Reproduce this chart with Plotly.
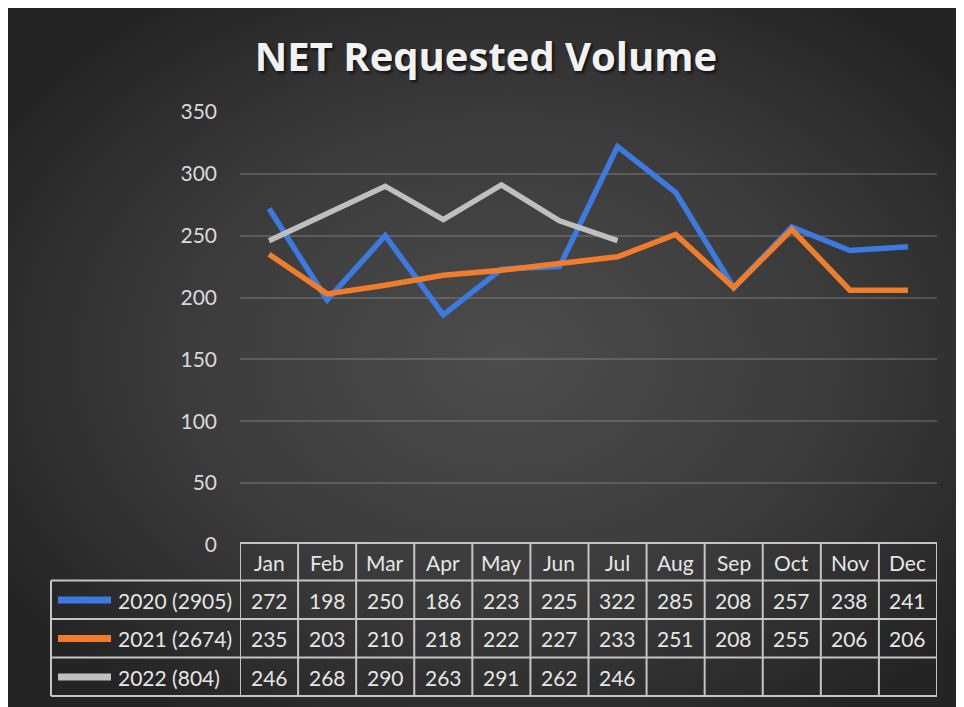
"""
Line chart with an Excel-style data table underneath: NET Requested Volume.
"""

import base64
import plotly.graph_objects as go


MONTHS = ["Jan", "Feb", "Mar", "Apr", "May", "Jun",
          "Jul", "Aug", "Sep", "Oct", "Nov", "Dec"]

VOL_2020 = [272, 198, 250, 186, 223, 225, 322, 285, 208, 257, 238, 241]
VOL_2021 = [235, 203, 210, 218, 222, 227, 233, 251, 208, 255, 206, 206]
VOL_2022 = [246, 268, 290, 263, 291, 262, 246, None, None, None, None, None]

SERIES_NAMES = ["2020 (2905)", "2021 (2674)", "2022 (804)"]
SERIES_VALUES = [VOL_2020, VOL_2021, VOL_2022]

Y_TICKS = [0, 50, 100, 150, 200, 250, 300, 350]

LINE_COLORS = ["#3d7ae0", "#f07d2c", "#bfbfbf"]
TEXT_COLOR = "#e6e6e6"
GRID_COLOR = "#c4c4c4"
FONT = "Lato"

# the page body has an 8px margin, so the figure is a bit smaller than the window
W, H = 956, 699
L, R, T, B = 232, 27, 104, 162
PW, PH = W - L - R, H - T - B
X0, Y0 = 240, 545      # screen px of the plot's left / bottom edge


def py(px):
    """Screen pixel row -> paper y."""
    return (Y0 - px) / PH


def pxx(px):
    """Screen pixel column -> paper x."""
    return (px - X0) / PW


def background_uri():
    svg = (
        "<svg xmlns='http://www.w3.org/2000/svg' width='956' height='699'>"
        "<defs><radialGradient id='g' cx='52%' cy='50%' r='62%'>"
        "<stop offset='0' stop-color='#4c4c4c'/>"
        "<stop offset='0.55' stop-color='#3b3b3b'/>"
        "<stop offset='1' stop-color='#242424'/>"
        "</radialGradient></defs>"
        "<rect width='100%' height='100%' fill='url(#g)'/></svg>"
    )
    return "data:image/svg+xml;base64," + base64.b64encode(svg.encode()).decode()


def cell_text(x, y, text, xref="x", xanchor="center"):
    return dict(x=x, y=y, xref=xref, yref="paper", text=text, showarrow=False,
                xanchor=xanchor, yanchor="middle",
                font=dict(family=FONT, size=21, color=TEXT_COLOR))


fig = go.Figure()

for name, vals, color in zip(SERIES_NAMES, SERIES_VALUES, LINE_COLORS):
    fig.add_trace(go.Scatter(
        x=MONTHS, y=vals, name=name, mode="lines",
        line=dict(color=color, width=5.5), connectgaps=False,
    ))

# --- data table below the plot ---
row_lines = [543, 580.5, 619, 657.5, 696]
row_mid = [562, 600, 638.5, 677]
label_left = 51

shapes = []
annotations = []

# header row top line (only over month columns)
shapes.append(dict(type="line", xref="x", yref="paper",
                   x0=-0.5, x1=len(MONTHS) - 0.5,
                   y0=py(row_lines[0]), y1=py(row_lines[0]),
                   line=dict(color=GRID_COLOR, width=2)))
# remaining horizontal lines span the label column too
for r in row_lines[1:]:
    shapes.append(dict(type="line", xref="paper", yref="paper",
                       x0=pxx(label_left), x1=1, y0=py(r), y1=py(r),
                       line=dict(color=GRID_COLOR, width=2)))
# vertical lines at category boundaries
for i in range(len(MONTHS) + 1):
    shapes.append(dict(type="line", xref="x", yref="paper",
                       x0=i - 0.5, x1=i - 0.5,
                       y0=py(row_lines[0]), y1=py(row_lines[-1]),
                       line=dict(color=GRID_COLOR, width=2)))
shapes.append(dict(type="line", xref="paper", yref="paper",
                   x0=pxx(label_left), x1=pxx(label_left),
                   y0=py(row_lines[1]), y1=py(row_lines[-1]),
                   line=dict(color=GRID_COLOR, width=2)))

for m in MONTHS:
    annotations.append(cell_text(m, py(row_mid[0]), m))

# series rows: legend key, name, values
for k, (name, vals, color) in enumerate(zip(SERIES_NAMES, SERIES_VALUES, LINE_COLORS)):
    ym = py(row_mid[k + 1])
    shapes.append(dict(type="line", xref="paper", yref="paper",
                       x0=pxx(58), x1=pxx(111), y0=ym, y1=ym,
                       line=dict(color=color, width=7)))
    annotations.append(cell_text(pxx(116), ym, name, xref="paper", xanchor="left"))
    for m, v in zip(MONTHS, vals):
        if v is not None:
            annotations.append(cell_text(m, ym, str(v)))

fig.update_layout(
    width=W, height=H,
    margin=dict(l=L, r=R, t=T, b=B),
    paper_bgcolor="#2b2b2b", plot_bgcolor="rgba(0,0,0,0)",
    showlegend=False,
    title=dict(text="<b>NET Requested Volume</b>", x=0.5, xanchor="center",
               y=1 - (57 - 8) / H, yanchor="middle",
               font=dict(family="Open Sans", size=40, color="#f2f2f2",
                         shadow="2px 2px 3px rgba(0,0,0,0.7)")),
    xaxis=dict(range=[-0.5, len(MONTHS) - 0.5], showticklabels=False,
               showgrid=False, zeroline=False, showline=False, ticks=""),
    yaxis=dict(range=[0, 350], tickvals=Y_TICKS, showgrid=True,
               gridcolor="rgba(150,150,150,0.35)", gridwidth=1.5,
               zeroline=False, showline=False, ticks="",
               ticklabelstandoff=22,
               tickfont=dict(family=FONT, size=21, color="#d9d9d9")),
    shapes=shapes,
    annotations=annotations,
    images=[dict(source=background_uri(), xref="paper", yref="paper",
                 x=pxx(8), y=py(8), sizex=W / PW, sizey=H / PH,
                 xanchor="left", yanchor="top", sizing="stretch",
                 layer="below")],
)

fig.write_html("out.html")
